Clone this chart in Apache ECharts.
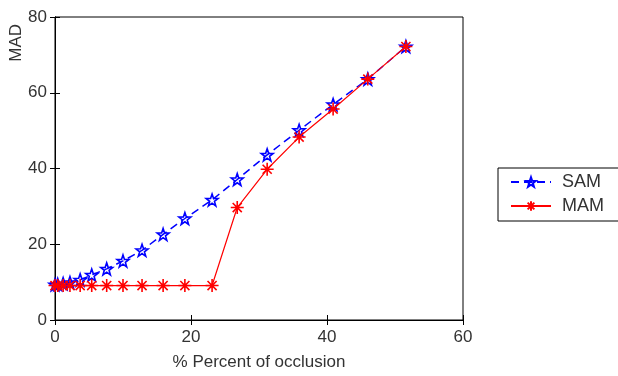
<!DOCTYPE html>
<html>
<head>
<meta charset="utf-8">
<script src="https://cdn.jsdelivr.net/npm/echarts@6/dist/echarts.min.js"></script>
<style>
  html, body { margin: 0; padding: 0; background: #fff; }
  #chart { width: 618px; height: 376px; }
</style>
</head>
<body>
<div id="chart"></div>
<script>
// data
var occlusion = [0, 0.4, 1.2, 2.2, 3.7, 5.4, 7.6, 10, 12.8, 15.9, 19.1, 23.1, 26.8, 31.2, 35.9, 40.9, 46, 51.6];
var sam = [9.3, 9.4, 9.6, 9.9, 10.6, 11.9, 13.5, 15.6, 18.4, 22.6, 26.8, 31.7, 37.1, 43.6, 50.1, 56.9, 63.6, 72.2];
var mam = [9.1, 9.1, 9.1, 9.1, 9.1, 9.1, 9.1, 9.1, 9.1, 9.1, 9.1, 9.1, 29.7, 39.8, 48.3, 55.7, 63.6, 72.2];
var xTicks = [0, 20, 40, 60];
var yTicks = [0, 20, 40, 60, 80];

function pairs(xs, ys) {
  return xs.map(function (x, i) { return [x, ys[i]]; });
}

var starPath = 'path://M10 0 L12.35 6.76 L19.51 6.91 L13.8 11.24 L15.88 18.09 L10 14 L4.12 18.09 L6.2 11.24 L0.49 6.91 L7.65 6.76 Z';
var asteriskPath = 'path://M0 10 L20 10 M10 0 L10 20 M3 3 L17 17 M17 3 L3 17';

var font = 'Liberation Sans, Arial, sans-serif';
var textColor = '#333';
var chart = echarts.init(document.getElementById('chart'));

var option = {
  animation: false,
  grid: {
    left: 55, right: 155, top: 17, bottom: 51,
    show: true, borderColor: '#000', borderWidth: 1
  },
  xAxis: [{
    type: 'value',
    min: xTicks[0], max: xTicks[xTicks.length - 1], interval: 20,
    name: '% Percent of occlusion',
    nameLocation: 'middle',
    nameGap: 34,
    nameTextStyle: { fontFamily: font, fontSize: 17, color: textColor },
    axisLine: { lineStyle: { color: '#000' } },
    axisTick: { inside: true, length: 5, lineStyle: { color: '#000' } },
    axisLabel: { fontFamily: font, fontSize: 17, color: textColor, margin: 9 },
    splitLine: { show: false }
  }, {
    type: 'value', position: 'top',
    min: xTicks[0], max: xTicks[xTicks.length - 1], interval: 20,
    axisLine: { lineStyle: { color: '#000' } },
    axisTick: { inside: true, length: 5, lineStyle: { color: '#000' } },
    axisLabel: { show: false },
    splitLine: { show: false }
  }],
  yAxis: [{
    type: 'value',
    min: yTicks[0], max: yTicks[yTicks.length - 1], interval: 20,
    axisLine: { show: true, lineStyle: { color: '#000' } },
    axisTick: { show: true, inside: true, length: 5, lineStyle: { color: '#000' } },
    axisLabel: { fontFamily: font, fontSize: 17, color: textColor, margin: 8 },
    splitLine: { show: false }
  }, {
    type: 'value', position: 'right',
    min: yTicks[0], max: yTicks[yTicks.length - 1], interval: 20,
    axisLine: { show: true, lineStyle: { color: '#000' } },
    axisTick: { show: true, inside: true, length: 5, lineStyle: { color: '#000' } },
    axisLabel: { show: false },
    splitLine: { show: false }
  }],
  legend: {
    orient: 'vertical',
    left: 498, top: 168,
    padding: [5, 30, 6, 12],
    itemGap: 6,
    itemWidth: 40,
    itemHeight: 12,
    borderColor: '#000',
    borderWidth: 1,
    borderRadius: 0,
    textStyle: { fontFamily: font, fontSize: 18, color: textColor, padding: [0, 0, 0, 6] },
    data: ['SAM', 'MAM']
  },
  graphic: [{
    type: 'text',
    left: 8, top: 24,
    rotation: Math.PI / 2,
    style: { text: 'MAD', font: '17px ' + font, fill: textColor }
  }],
  series: [{
    name: 'SAM',
    type: 'line',
    data: pairs(occlusion, sam),
    symbol: starPath,
    symbolSize: 12,
    lineStyle: { color: '#0000ff', width: 1.5, type: [8, 5] },
    itemStyle: { color: 'rgba(255,255,255,0)', borderColor: '#0000ff', borderWidth: 1.6 },
    z: 2
  }, {
    name: 'MAM',
    type: 'line',
    data: pairs(occlusion, mam),
    symbol: asteriskPath,
    symbolSize: 13,
    lineStyle: { color: '#ff0000', width: 1.2 },
    itemStyle: { color: 'rgba(255,255,255,0)', borderColor: '#ff0000', borderWidth: 1.6 },
    z: 3
  }]
};

chart.setOption(option);
</script>
</body>
</html>
